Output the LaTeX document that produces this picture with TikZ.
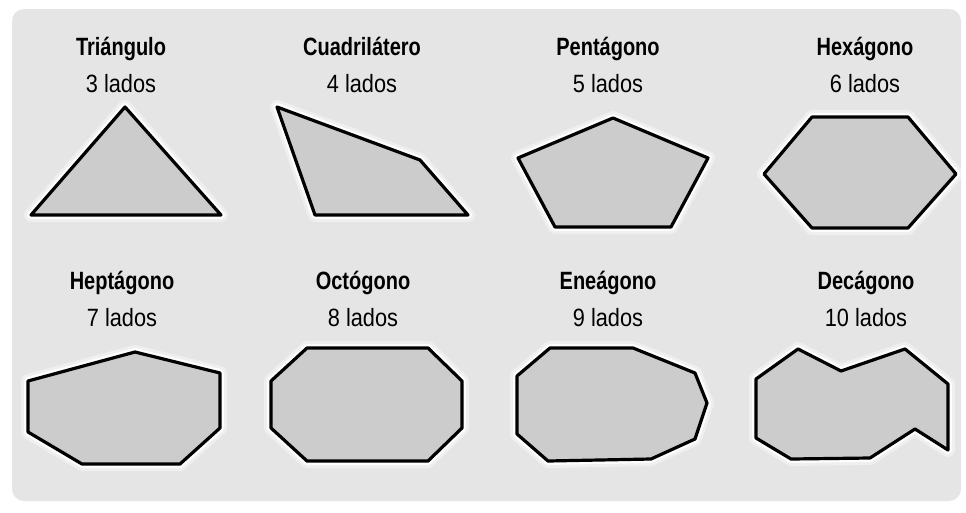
\documentclass[tikz,border=0pt]{standalone}
\usepackage{fontspec}
\setmainfont{Liberation Sans}
\newfontfamily\titulo[FakeStretch=0.80]{Liberation Sans}
\newfontfamily\numero[FakeStretch=0.87]{Liberation Sans}
\usetikzlibrary{positioning}
\definecolor{fondo}{gray}{0.90}
\definecolor{relleno}{gray}{0.80}

\begin{document}
\begin{tikzpicture}[x=1pt, y=-1pt,
	poligono/.style={draw=black, line width=3.2pt, line join=round, fill=relleno,
		preaction={draw=white, line width=14pt, opacity=0.4, line join=round},
		preaction={draw=white, line width=8pt, opacity=0.9, line join=round}},
	nombre/.style={font=\titulo\fontsize{25}{28}\selectfont\bfseries, inner sep=0pt, text height=19pt, text depth=6pt},
	lados/.style={font=\numero\fontsize{25}{28}\selectfont, inner sep=0pt, text height=19pt, text depth=6pt, below=12pt of #1}]
			\useasboundingbox (0,0) rectangle (966,512);
			\fill[white] (0,0) rectangle (966,512);
			\fill[fondo, rounded corners=12pt] (12,9) rectangle (961,501);
			
			% primera fila
			\node[nombre] (t3) at (121,48.5) {Triángulo};
			\node[lados=t3] (l3) {3 lados};
			\draw[poligono] (125,107) -- (221,215) -- (31,215) -- cycle;
			
			\node[nombre] (t4) at (362,48.5) {Cuadrilátero};
			\node[lados=t4] (l4) {4 lados};
			\draw[poligono] (277,107) -- (420,160) -- (468,215) -- (315,215) -- cycle;
			
			\node[nombre] (t5) at (608,48.5) {Pentágono};
			\node[lados=t5] (l5) {5 lados};
			\draw[poligono] (613,118) -- (708,158) -- (671,227) -- (555,227) -- (518,158) -- cycle;
			
			\node[nombre] (t6) at (865,48.5) {Hexágono};
			\node[lados=t6] (l6) {6 lados};
			\draw[poligono] (812,117) -- (908,117) -- (956,174) -- (908,228) -- (812,228) -- (764,174) -- cycle;
			
			% segunda fila
			\node[nombre] (t7) at (122,282.5) {Heptágono};
			\node[lados=t7] (l7) {7 lados};
			\draw[poligono] (28,381) -- (135,352) -- (220,373) -- (220,428) -- (180,464) -- (82,464) -- (28,432) -- cycle;
			
			\node[nombre] (t8) at (363,282.5) {Octógono};
			\node[lados=t8] (l8) {8 lados};
			\draw[poligono] (307,348) -- (428,348) -- (462,381) -- (462,428) -- (428,461) -- (307,461) -- (271,428) -- (271,381) -- cycle;
			
			\node[nombre] (t9) at (608,282.5) {Eneágono};
			\node[lados=t9] (l9) {9 lados};
			\draw[poligono] (550,348) -- (633,348) -- (695,373) -- (707,403) -- (695,439) -- (651,459) -- (548,461) -- (517,434) -- (517,376) -- cycle;
			
			\node[nombre] (t10) at (866,282.5) {Decágono};
			\node[lados=t10] (l10) {10 lados};
			\draw[poligono] (756,379) -- (798,349) -- (841,371) -- (905,349) -- (948,384) -- (948,450) -- (915,429) -- (870,458) -- (791,459) -- (756,438) -- cycle;
		\end{tikzpicture}
\end{document}
